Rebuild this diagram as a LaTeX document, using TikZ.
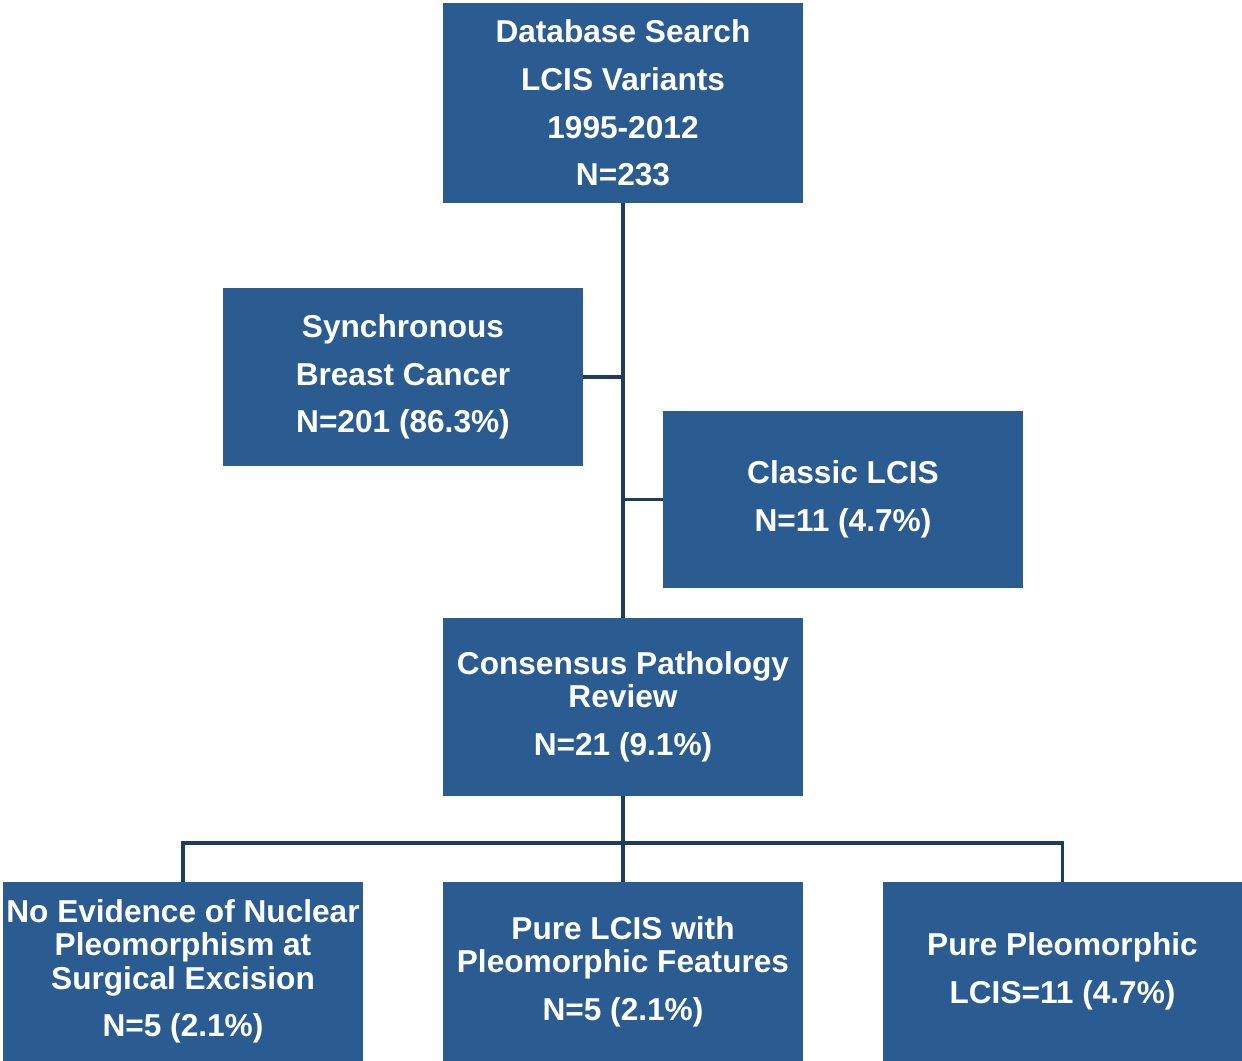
\documentclass[tikz,border=0pt]{standalone}
\usepackage{fontspec}
\setmainfont{Liberation Sans}
\usetikzlibrary{positioning}
\definecolor{boxblue}{HTML}{2A5B91}
\definecolor{linenavy}{HTML}{1F3B60}
\newcommand{\gap}{\\[8.2pt]}

\begin{document}
\begin{tikzpicture}
                \tikzstyle{every node}+=[inner sep=0pt]
                \tikzstyle{box}=[fill=boxblue, text=white, align=center, minimum width=7.2cm,
                  font=\fontsize{18}{19}\selectfont\bfseries]
                \tikzstyle{link}=[draw=linenavy, line width=2.2pt]
                \useasboundingbox (0,0) rectangle (24.84,-21.22);
                \node [box, minimum height=4cm] (search) at (12.46,-2.06)
                  {Database Search\gap LCIS Variants\gap 1995-2012\gap N=233};
                \node [box, minimum height=3.56cm] (sync) at (8.06,-7.54)
                  {Synchronous\gap Breast Cancer\gap N=201 (86.3\%)};
                \node [box, minimum height=3.54cm] (classic) at (16.86,-9.99)
                  {Classic LCIS\gap N=11 (4.7\%)};
                \node [box, minimum height=3.56cm] (review) at (12.46,-14.14)
                  {Consensus Pathology\\Review\gap N=21 (9.1\%)};
                \node [box, minimum height=3.58cm] (noevid) at (3.66,-19.43)
                  {No Evidence of Nuclear\\Pleomorphism at\\Surgical Excision\gap N=5 (2.1\%)};
                \node [box, minimum height=3.58cm] (purefeat) at (12.46,-19.43)
                  {Pure LCIS with\\Pleomorphic Features\gap N=5 (2.1\%)};
                \node [box, minimum height=3.58cm, minimum width=7.18cm] (purepleo) at (21.25,-19.43)
                  {Pure Pleomorphic\gap LCIS=11 (4.7\%)};
                \coordinate (bus) at (12.46,-16.86);
                \draw [link] (search.south) -- (review.north);
                \draw [link] (sync.east) -- (sync.east -| search.south);
                \draw [link] (classic.west -| search.south) -- (classic.west);
                \draw [link] (review.south) -- (bus);
                \draw [link] (noevid.north) -- (noevid.north |- bus) -- (purepleo.north |- bus) -- (purepleo.north);
                \draw [link] (bus) -- (purefeat.north);
            \end{tikzpicture}
\end{document}
